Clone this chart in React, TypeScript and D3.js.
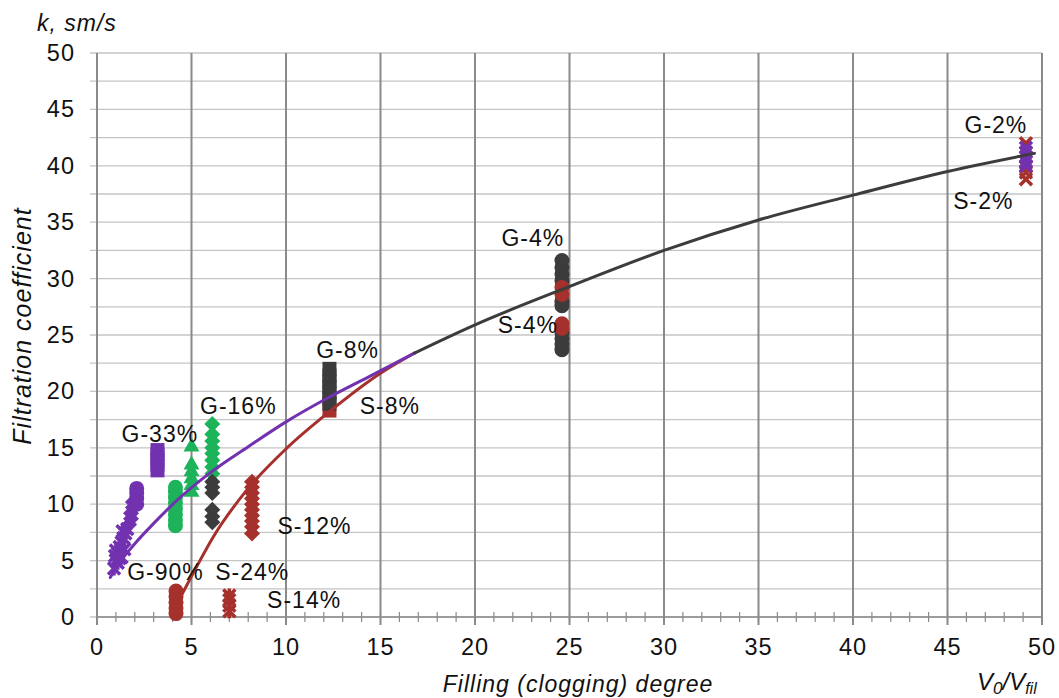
import React from "react";
import * as d3 from "d3";

// ---- data ----
const xTickValues = [0, 5, 10, 15, 20, 25, 30, 35, 40, 45, 50];
const yTickValues = [0, 5, 10, 15, 20, 25, 30, 35, 40, 45, 50];

// G-90% (purple stars / diamonds / circles near x≈1-2)
const g90StarX = [0.9, 1.0, 1.1, 1.2, 1.3, 1.1, 1.4, 1.5, 1.0, 1.3, 1.6, 1.2, 1.45, 0.95, 1.35];
const g90StarY = [4.3, 5.0, 5.6, 6.2, 6.6, 4.8, 7.0, 7.4, 5.9, 5.3, 7.8, 5.2, 6.0, 5.4, 7.6];
const g90DiamondX = [1.7, 1.8, 1.8, 1.9, 1.9];
const g90DiamondY = [8.2, 8.7, 9.2, 9.7, 10.2];
const g90CircleX = [2.1, 2.1, 2.1, 2.1];
const g90CircleY = [10.0, 10.5, 11.0, 11.4];
// G-33%
const g33X = [3.2, 3.2, 3.2, 3.2, 3.2];
const g33Y = [13.0, 13.5, 14.0, 14.4, 14.8];
// G-16% (green)
const g16CircleX = [4.15, 4.15, 4.15, 4.15, 4.15, 4.15, 4.15, 4.15];
const g16CircleY = [8.1, 8.6, 9.1, 9.6, 10.1, 10.6, 11.1, 11.5];
const g16TriangleX = [5.0, 5.0, 5.0, 5.0, 5.0, 5.0];
const g16TriangleY = [11.2, 11.8, 12.4, 13.0, 13.6, 15.2];
const g16DiamondX = [6.1, 6.1, 6.1, 6.1, 6.1, 6.1, 6.1, 6.1];
const g16DiamondY = [12.7, 13.3, 13.9, 14.5, 15.0, 15.6, 16.2, 17.1];
// dark grey diamonds at x≈6
const gGreyDiamondX = [6.1, 6.1, 6.1, 6.1, 6.1, 6.1];
const gGreyDiamondY = [8.4, 8.9, 9.5, 11.0, 11.5, 12.0];
// S-12%
const s12X = [8.2, 8.2, 8.2, 8.2, 8.2, 8.2, 8.2, 8.2, 8.2, 8.2];
const s12Y = [7.4, 8.0, 8.5, 9.0, 9.5, 10.0, 10.5, 11.0, 11.5, 12.0];
// S-24%
const s24X = [4.18, 4.18, 4.18, 4.18, 4.18];
const s24Y = [0.3, 0.8, 1.3, 1.8, 2.3];
// S-14%
const s14X = [7.0, 7.0, 7.0, 7.0];
const s14Y = [0.5, 1.0, 1.5, 1.9];
// G-8% / S-8%
const g8X = [12.3, 12.3, 12.3, 12.3, 12.3, 12.3, 12.3];
const g8Y = [18.9, 19.4, 19.9, 20.4, 20.9, 21.4, 22.0];
const s8X = [12.3];
const s8Y = [18.3];
// G-4% / S-4%
const g4X = [24.6, 24.6, 24.6, 24.6, 24.6, 24.6, 24.6, 24.6, 24.6, 24.6];
const g4Y = [23.7, 24.2, 24.7, 25.2, 27.6, 28.0, 29.8, 30.4, 31.0, 31.6];
const s4X = [24.6, 24.6, 24.6, 24.6];
const s4Y = [25.6, 26.0, 28.6, 29.2];
// G-2% / S-2%
const s2X = [49.15, 49.15, 49.15, 49.15];
const s2Y = [38.8, 39.4, 39.9, 42.0];
const g2X = [49.15, 49.15, 49.15, 49.15, 49.15];
const g2Y = [40.0, 40.4, 40.8, 41.2, 41.6];

// trend curves
const gravelCurveX = [0.7, 1.5, 2, 3, 4.4, 6, 8, 10, 12.3, 14.5, 16.8];
const gravelCurveY = [3.5, 5.5, 6.5, 8.3, 10.6, 12.8, 15.1, 17.3, 19.5, 21.4, 23.4];
const sandCurveX = [4.4, 5, 6.15, 7.9, 10, 12.3, 15, 16.8];
const sandCurveY = [1.7, 3.6, 7.1, 11.2, 14.9, 18.2, 21.6, 23.4];
const commonCurveX = [16.8, 20, 25, 30, 35, 40, 45, 49.6];
const commonCurveY = [23.4, 25.9, 29.3, 32.5, 35.2, 37.4, 39.5, 41.1];

// point labels
const labelText = ["G-2%", "S-2%", "G-4%", "S-4%", "G-8%", "S-8%", "G-16%", "G-33%", "G-90%", "S-24%", "S-14%", "S-12%"];
const labelX = [45.9, 45.3, 21.4, 21.2, 11.6, 13.9, 5.45, 1.3, 1.6, 6.25, 9.0, 9.55];
const labelY = [42.9, 36.2, 32.9, 25.2, 23.0, 18.0, 18.0, 15.5, 3.3, 3.3, 0.8, 7.4];

const PURPLE = "#7232B0";
const GREEN = "#1DB35A";
const RED = "#A5302C";
const GREY = "#3C3C3C";
const FONT = "'Liberation Sans', Arial, sans-serif";

const W = 1059;
const H = 698;

const x = d3.scaleLinear().domain([0, 50]).range([97, 1042]);
const y = d3.scaleLinear().domain([0, 50]).range([617, 53]);

type Shape = "circle" | "square" | "diamond" | "triangle" | "star" | "times";

function markerPath(shape: Shape, cx: number, cy: number): string {
  switch (shape) {
    case "square":
      return `M${cx - 7},${cy - 7}h14v14h-14Z`;
    case "diamond":
      return `M${cx},${cy - 8}L${cx + 8},${cy}L${cx},${cy + 8}L${cx - 8},${cy}Z`;
    case "triangle":
      return `M${cx},${cy - 8}L${cx + 8},${cy + 6}L${cx - 8},${cy + 6}Z`;
    case "star":
      return `M${cx - 6},${cy - 6}L${cx + 6},${cy + 6}M${cx + 6},${cy - 6}L${cx - 6},${cy + 6}M${cx},${cy - 7}L${cx},${cy + 7}`;
    case "times":
      return `M${cx - 6},${cy - 6}L${cx + 6},${cy + 6}M${cx + 6},${cy - 6}L${cx - 6},${cy + 6}`;
    default:
      return "";
  }
}

function Markers({ xs, ys, shape, color }: { xs: number[]; ys: number[]; shape: Shape; color: string }) {
  return (
    <g>
      {xs.map((xv, i) => {
        const cx = x(xv);
        const cy = y(ys[i]);
        if (shape === "circle") return <circle key={i} cx={cx} cy={cy} r={7.5} fill={color} />;
        if (shape === "star" || shape === "times")
          return <path key={i} d={markerPath(shape, cx, cy)} stroke={color} strokeWidth={3.5} fill="none" />;
        return <path key={i} d={markerPath(shape, cx, cy)} fill={color} />;
      })}
    </g>
  );
}

function Curve({ xs, ys, color }: { xs: number[]; ys: number[]; color: string }) {
  const pts = xs.map((v, i) => [v, ys[i]] as [number, number]);
  const line = d3
    .line<[number, number]>()
    .x((d) => x(d[0]))
    .y((d) => y(d[1]))
    .curve(d3.curveMonotoneX);
  return <path d={line(pts) || ""} fill="none" stroke={color} strokeWidth={3} strokeLinecap="round" />;
}

export default function App() {
  const minorY = d3.range(0, 50.01, 2.5);
  const minorX = d3.range(0, 51, 1);
  return (
    <svg width={W} height={H} style={{ position: "absolute", left: 0, top: 0, background: "#fff" }} fontFamily={FONT}>
      <rect width={W} height={H} fill="#fff" />
      {/* horizontal grid lines */}
      {minorY.map((v) => (
        <line key={"h" + v} x1={x(0) - 7} x2={x(50)} y1={y(v)} y2={y(v)} stroke="#C4C4C4" strokeWidth={1.3} />
      ))}
      {/* vertical grid lines */}
      {xTickValues.map((v) => (
        <line key={"v" + v} x1={x(v)} x2={x(v)} y1={y(50)} y2={y(0) + 8} stroke="#8A8A8A" strokeWidth={2} />
      ))}
      {/* axes */}
      <line x1={x(0)} x2={x(0)} y1={y(50)} y2={y(0) + 8} stroke="#8A8A8A" strokeWidth={1.5} />
      <line x1={x(0)} x2={x(50)} y1={y(0)} y2={y(0)} stroke="#8A8A8A" strokeWidth={1.5} />
      {minorX.map((v) => (
        <line key={"m" + v} x1={x(v)} x2={x(v)} y1={y(0) - 5} y2={y(0) + 5} stroke="#8A8A8A" strokeWidth={1.2} />
      ))}
      {/* tick labels */}
      {yTickValues.map((v) => (
        <text key={"yl" + v} x={75} y={y(v) + 8} textAnchor="end" fontSize={23.5} letterSpacing={1} fill="#111">
          {v}
        </text>
      ))}
      {xTickValues.map((v) => (
        <text key={"xl" + v} x={x(v)} y={655} textAnchor="middle" fontSize={23.5} letterSpacing={1} fill="#111">
          {v}
        </text>
      ))}
      {/* axis titles */}
      <text x={37} y={31} fontSize={23} fontStyle="italic" letterSpacing={1} fill="#111">
        k, sm/s
      </text>
      <text
        transform="translate(31,326) rotate(-90)"
        textAnchor="middle"
        fontSize={25}
        fontStyle="italic"
        letterSpacing={1}
        fill="#111"
      >
        Filtration coefficient
      </text>
      <text x={578} y={692} textAnchor="middle" fontSize={23} fontStyle="italic" letterSpacing={1} fill="#111">
        Filling (clogging) degree
      </text>
      <text x={977} y={690} fontSize={24} fontStyle="italic" fill="#111">
        V<tspan fontSize={17} dy={4}>0</tspan>
        <tspan dy={-4}>/V</tspan>
        <tspan fontSize={16} dy={4}>fil</tspan>
      </text>

      {/* markers */}
      <Markers xs={g90StarX} ys={g90StarY} shape="star" color={PURPLE} />
      <Markers xs={g90DiamondX} ys={g90DiamondY} shape="diamond" color={PURPLE} />
      <Markers xs={g90CircleX} ys={g90CircleY} shape="circle" color={PURPLE} />
      <Markers xs={g33X} ys={g33Y} shape="square" color={PURPLE} />
      <Markers xs={g16CircleX} ys={g16CircleY} shape="circle" color={GREEN} />
      <Markers xs={g16TriangleX} ys={g16TriangleY} shape="triangle" color={GREEN} />
      <Markers xs={g16DiamondX} ys={g16DiamondY} shape="diamond" color={GREEN} />
      <Markers xs={gGreyDiamondX} ys={gGreyDiamondY} shape="diamond" color={GREY} />
      <Markers xs={s12X} ys={s12Y} shape="diamond" color={RED} />
      <Markers xs={s24X} ys={s24Y} shape="circle" color={RED} />
      <Markers xs={s14X} ys={s14Y} shape="star" color={RED} />
      <Markers xs={s8X} ys={s8Y} shape="square" color={RED} />
      <Markers xs={g8X} ys={g8Y} shape="square" color={GREY} />
      <Markers xs={g4X} ys={g4Y} shape="circle" color={GREY} />
      <Markers xs={s4X} ys={s4Y} shape="circle" color={RED} />
      <Markers xs={s2X} ys={s2Y} shape="times" color={RED} />
      <Markers xs={g2X} ys={g2Y} shape="times" color={PURPLE} />

      {/* trend curves */}
      <Curve xs={sandCurveX} ys={sandCurveY} color={RED} />
      <Curve xs={gravelCurveX} ys={gravelCurveY} color={PURPLE} />
      <Curve xs={commonCurveX} ys={commonCurveY} color={GREY} />

      {/* labels */}
      {labelText.map((t, i) => (
        <text key={t} x={x(labelX[i])} y={y(labelY[i])} fontSize={23} letterSpacing={1} fill="#111">
          {t}
        </text>
      ))}
    </svg>
  );
}
